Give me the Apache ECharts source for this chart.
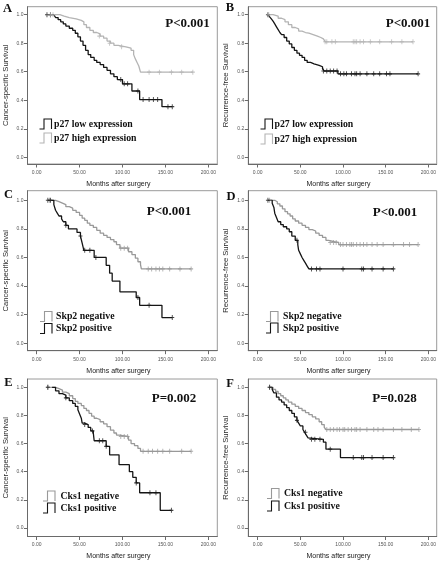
<!DOCTYPE html>
<html>
<head>
<meta charset="utf-8">
<script src="https://cdn.jsdelivr.net/npm/echarts@6/dist/echarts.min.js"></script>
<style>html,body{margin:0;padding:0;background:#fff}#c{width:441px;height:561px}</style>
</head>
<body>
<div id="c"></div>
<script>
// ---------- DATA ----------
const xTicks = [0, 50, 100, 150, 200];
const yTicks = [0, 0.2, 0.4, 0.6, 0.8, 1.0];
const panelLetters = ['A', 'B', 'C', 'D', 'E', 'F'];
const pValues = ['P<0.001', 'P<0.001', 'P<0.001', 'P<0.001', 'P=0.002', 'P=0.028'];
const yTitles = ['Cancer-specific Survival', 'Recurrence-free Survival', 'Cancer-specific Survival', 'Recurrence-free Survival', 'Cancer-specific Survival', 'Recurrence-free Survival'];
const xTitle = 'Months after surgery';
const legendA = ['p27 low expression', 'p27 high expression'];
const legendC = ['Skp2 negative', 'Skp2 positive'];
const legendE = ['Cks1 negative', 'Cks1 positive'];

// Panel A: cancer-specific survival by p27
const aLow = [[14,1.0],[20,0.99],[22,0.98],[25,0.965],[28,0.95],[31,0.935],[34,0.92],[38,0.905],[42,0.89],[45,0.87],[48,0.845],[51,0.815],[54,0.785],[57,0.75],[60,0.72],[63,0.70],[67,0.68],[70,0.665],[74,0.65],[78,0.63],[82,0.61],[86,0.585],[90,0.565],[94,0.545],[100,0.515],[111,0.465],[120,0.405],[146,0.355],[158,0.355]];
const aLowCens = [[12,1],[16,1],[98,0.545],[102,0.515],[106,0.515],[118,0.465],[124,0.405],[131,0.405],[136,0.405],[141,0.405],[153,0.355],[158,0.355]];
const aHigh = [[20,1.0],[27,0.99],[32,0.98],[38,0.97],[46,0.96],[52,0.95],[55,0.93],[58,0.91],[62,0.89],[66,0.875],[70,0.865],[74,0.85],[78,0.835],[82,0.815],[86,0.80],[90,0.785],[95,0.775],[104,0.765],[110,0.75],[113,0.72],[115,0.69],[117,0.665],[119,0.64],[121,0.597],[182,0.597]];
const aHighCens = [[16,1],[19,1],[73,0.85],[85,0.80],[99,0.775],[131,0.597],[143,0.597],[157,0.597],[169,0.597],[182,0.597]];

// Panel B: recurrence-free survival by p27
const bLow = [[12,1.0],[14,0.985],[16,0.97],[18,0.955],[20,0.935],[22,0.915],[24,0.895],[26,0.875],[28,0.86],[31,0.84],[34,0.815],[37,0.795],[40,0.77],[43,0.75],[46,0.73],[49,0.715],[52,0.70],[55,0.68],[58,0.665],[62,0.655],[66,0.645],[72,0.635],[76,0.62],[78,0.605],[94,0.585],[188,0.585]];
const bLowCens = [[12,1],[77,0.605],[81,0.605],[85,0.605],[89,0.605],[93,0.605],[97,0.585],[101,0.585],[104,0.585],[110,0.585],[114,0.585],[116,0.585],[120,0.585],[128,0.585],[136,0.585],[143,0.585],[151,0.585],[155,0.585],[188,0.585]];
const bHigh = [[13,1.0],[18,0.99],[24,0.975],[28,0.965],[32,0.95],[36,0.93],[40,0.91],[44,0.9],[48,0.885],[52,0.875],[56,0.87],[60,0.86],[65,0.85],[70,0.84],[74,0.83],[77,0.82],[79,0.81],[182,0.81]];
const bHighCens = [[13,1],[79,0.81],[81,0.81],[87,0.81],[91,0.81],[112,0.81],[114,0.81],[116,0.81],[120,0.81],[124,0.81],[132,0.81],[143,0.81],[157,0.81],[169,0.81],[182,0.81]];

// Panel C: cancer-specific survival by Skp2
const cNeg = [[15,1.0],[22,0.99],[26,0.98],[30,0.97],[34,0.955],[38,0.945],[42,0.93],[46,0.915],[50,0.895],[53,0.875],[56,0.86],[59,0.84],[62,0.825],[66,0.81],[70,0.79],[74,0.77],[78,0.755],[82,0.74],[86,0.725],[90,0.71],[93,0.69],[97,0.665],[107,0.64],[111,0.62],[115,0.595],[118,0.57],[121,0.55],[122,0.52],[180,0.52]];
const cNegCens = [[15,1],[98,0.665],[102,0.665],[106,0.665],[130,0.52],[134,0.52],[139,0.52],[143,0.52],[147,0.52],[155,0.52],[167,0.52],[180,0.52]];
const cPos = [[13,1.0],[20,0.97],[22,0.93],[24,0.91],[26,0.89],[29,0.87],[31,0.85],[34,0.825],[37,0.80],[47,0.775],[51,0.75],[53,0.70],[55,0.65],[67,0.60],[81,0.545],[85,0.49],[88,0.435],[97,0.36],[116,0.32],[120,0.265],[146,0.18],[158,0.18]];
const cPosCens = [[13,1],[16,1],[34,0.825],[51,0.75],[56,0.65],[62,0.65],[69,0.60],[118,0.32],[131,0.265],[158,0.18]];

// Panel D: recurrence-free survival by Skp2
const dNeg = [[14,1.0],[20,0.99],[23,0.975],[26,0.96],[29,0.94],[32,0.92],[35,0.905],[38,0.89],[41,0.87],[44,0.855],[48,0.84],[52,0.825],[56,0.81],[60,0.795],[64,0.785],[68,0.77],[72,0.755],[76,0.74],[80,0.72],[83,0.71],[90,0.705],[95,0.69],[188,0.69]];
const dNegCens = [[14,1],[85,0.705],[89,0.705],[92,0.705],[97,0.69],[100,0.69],[104,0.69],[108,0.69],[110,0.69],[112,0.69],[116,0.69],[120,0.69],[124,0.69],[128,0.69],[134,0.69],[140,0.69],[147,0.69],[159,0.69],[171,0.69],[178,0.69],[188,0.69]];
const dPos = [[12,1.0],[17,0.98],[19,0.95],[20,0.91],[22,0.88],[24,0.85],[27,0.83],[30,0.815],[34,0.80],[37,0.78],[40,0.75],[44,0.72],[47,0.69],[48,0.65],[50,0.625],[52,0.60],[54,0.58],[56,0.56],[58,0.54],[60,0.52],[159,0.52]];
const dPosCens = [[12,1],[46,0.72],[63,0.52],[69,0.52],[73,0.52],[100,0.52],[122,0.52],[124,0.52],[134,0.52],[147,0.52],[159,0.52]];

// Panel E: cancer-specific survival by Cks1
const eNeg = [[13,1.0],[22,0.99],[26,0.98],[30,0.965],[34,0.955],[38,0.94],[42,0.92],[45,0.9],[48,0.885],[52,0.87],[55,0.85],[58,0.835],[61,0.815],[64,0.795],[67,0.78],[70,0.77],[74,0.755],[78,0.74],[82,0.72],[86,0.695],[90,0.675],[93,0.66],[96,0.65],[107,0.625],[110,0.60],[114,0.585],[118,0.565],[121,0.545],[180,0.545]];
const eNegCens = [[13,1],[98,0.65],[102,0.65],[106,0.65],[124,0.545],[130,0.545],[135,0.545],[141,0.545],[147,0.545],[155,0.545],[169,0.545],[180,0.545]];
const ePos = [[18,1.0],[22,0.975],[26,0.955],[30,0.945],[34,0.925],[38,0.905],[42,0.885],[45,0.865],[48,0.84],[50,0.81],[52,0.78],[53,0.745],[56,0.735],[60,0.715],[63,0.69],[66,0.675],[67,0.62],[81,0.58],[85,0.52],[96,0.45],[108,0.40],[112,0.36],[116,0.32],[120,0.25],[144,0.125],[157,0.125]];
const ePosCens = [[13,1],[34,0.925],[56,0.735],[65,0.69],[73,0.62],[77,0.62],[81,0.58],[116,0.32],[132,0.25],[139,0.25],[157,0.125]];

// Panel F: recurrence-free survival by Cks1
const fNeg = [[14,1.0],[18,0.985],[21,0.97],[24,0.955],[27,0.94],[30,0.925],[33,0.91],[36,0.895],[40,0.88],[44,0.865],[48,0.85],[52,0.835],[56,0.82],[60,0.805],[64,0.79],[68,0.775],[72,0.755],[75,0.735],[78,0.715],[80,0.70],[189,0.70]];
const fNegCens = [[14,1],[81,0.70],[85,0.70],[89,0.70],[93,0.70],[96,0.70],[100,0.70],[102,0.70],[106,0.70],[110,0.70],[114,0.70],[116,0.70],[120,0.70],[128,0.70],[136,0.70],[141,0.70],[147,0.70],[159,0.70],[169,0.70],[180,0.70],[189,0.70]];
const fPos = [[14,1.0],[17,0.985],[19,0.96],[22,0.93],[25,0.91],[28,0.895],[31,0.875],[34,0.855],[37,0.835],[40,0.815],[43,0.79],[46,0.765],[48,0.745],[50,0.725],[53,0.70],[55,0.68],[57,0.66],[59,0.64],[61,0.63],[77,0.61],[80,0.56],[97,0.50],[159,0.50]];
const fPosCens = [[14,1],[46,0.765],[56,0.68],[63,0.63],[67,0.63],[73,0.63],[85,0.56],[112,0.50],[122,0.50],[124,0.50],[134,0.50],[147,0.50],[159,0.50]];

// ---------- LAYOUT / STYLE ----------
const SANS = 'Liberation Sans, Arial, sans-serif';
const SERIF = 'Liberation Serif, Times New Roman, serif';
const BLACK = '#151515';
const GRAY_LIGHT = '#b4b4b4';
const GRAY = '#999999';

const cols = [
  {left: 27.5, width: 189.8, xmin: -10.7, xmax: 210.5},
  {left: 248.3, width: 188.4, xmin: -11.0, xmax: 209.8}
];
const rows = [
  {top: 6.7, height: 157.3, ymin: -0.047, ymax: 1.056},
  {top: 190.7, height: 160.0, ymin: -0.052, ymax: 1.067},
  {top: 379.0, height: 158.7, ymin: -0.061, ymax: 1.059}
];

const panelCurves = [
  [{d: aLow, c: aLowCens, color: BLACK, name: legendA[0]}, {d: aHigh, c: aHighCens, color: GRAY_LIGHT, name: legendA[1]}],
  [{d: bLow, c: bLowCens, color: BLACK, name: legendA[0]}, {d: bHigh, c: bHighCens, color: GRAY_LIGHT, name: legendA[1]}],
  [{d: cNeg, c: cNegCens, color: GRAY, name: legendC[0]}, {d: cPos, c: cPosCens, color: BLACK, name: legendC[1]}],
  [{d: dNeg, c: dNegCens, color: GRAY, name: legendC[0]}, {d: dPos, c: dPosCens, color: BLACK, name: legendC[1]}],
  [{d: eNeg, c: eNegCens, color: GRAY, name: legendE[0]}, {d: ePos, c: ePosCens, color: BLACK, name: legendE[1]}],
  [{d: fNeg, c: fNegCens, color: GRAY, name: legendE[0]}, {d: fPos, c: fPosCens, color: BLACK, name: legendE[1]}]
];

// letter centre, p-value centre, legend (icon x, text x, line y centres)
const deco = [
  {letter: [7.5, 8.5], p: [187.5, 24], leg: {ix: 39.5, tx: 54, ys: [124, 138]}},
  {letter: [230, 7.5], p: [408, 24], leg: {ix: 260.5, tx: 274.5, ys: [124, 139]}},
  {letter: [8.5, 194.5], p: [169, 212], leg: {ix: 40, tx: 56, ys: [316.5, 328.5]}},
  {letter: [231, 197], p: [395, 213], leg: {ix: 266, tx: 283, ys: [316.5, 328]}},
  {letter: [8.5, 383], p: [174, 399], leg: {ix: 43, tx: 60.5, ys: [496, 508]}},
  {letter: [230, 383.5], p: [394.5, 399], leg: {ix: 267, tx: 284, ys: [493.5, 506]}}
];

const grids = [], xAxes = [], yAxes = [], series = [], graphics = [];
for (let i = 0; i < 6; i++) {
  const col = cols[i % 2], row = rows[Math.floor(i / 2)];
  grids.push({left: col.left, top: row.top, width: col.width, height: row.height,
    show: true, borderColor: '#9a9a9a', borderWidth: 1, backgroundColor: 'transparent'});
  xAxes.push({
    type: 'value', gridIndex: i, min: col.xmin, max: col.xmax,
    axisLine: {show: true, onZero: false, lineStyle: {color: '#6a6a6a', width: 1}},
    axisTick: {show: true, customValues: xTicks, length: 3.5, lineStyle: {color: '#6a6a6a'}},
    axisLabel: {show: true, customValues: xTicks, formatter: v => Number(v).toFixed(2),
      fontSize: 5, color: '#555', margin: 6, fontFamily: SANS},
    splitLine: {show: false},
    name: xTitle, nameLocation: 'middle', nameGap: 16.5,
    nameTextStyle: {fontSize: 7, color: '#1a1a1a', fontFamily: SANS, padding: [0, 8, 0, 0]}
  });
  yAxes.push({
    type: 'value', gridIndex: i, min: row.ymin, max: row.ymax,
    axisLine: {show: true, onZero: false, lineStyle: {color: '#6a6a6a', width: 1}},
    axisTick: {show: true, customValues: yTicks, length: 3.5, lineStyle: {color: '#6a6a6a'}},
    axisLabel: {show: true, customValues: yTicks, formatter: v => Number(v).toFixed(1),
      fontSize: 5, color: '#555', margin: 4, fontFamily: SANS},
    splitLine: {show: false},
    name: yTitles[i], nameLocation: 'middle', nameGap: 18,
    nameTextStyle: {fontSize: 7.6, color: '#2a2a2a', fontFamily: SANS}
  });
  panelCurves[i].forEach(cv => {
    series.push({
      type: 'line', name: cv.name, xAxisIndex: i, yAxisIndex: i, data: cv.d, step: 'end',
      symbol: 'none', showSymbol: false, lineStyle: {color: cv.color, width: 1.3}, itemStyle: {color: cv.color},
      animation: false, silent: true, z: 3
    });
    series.push({
      type: 'scatter', name: cv.name + ' (censored)', xAxisIndex: i, yAxisIndex: i, data: cv.c,
      symbol: 'path://M5,0L5,10M0,5L10,5', symbolSize: [4, 5],
      itemStyle: {color: 'none', borderColor: cv.color, borderWidth: 1},
      animation: false, silent: true, z: 4
    });
  });
  const dc = deco[i];
  graphics.push({type: 'text', x: dc.letter[0], y: dc.letter[1], style: {text: panelLetters[i],
    font: 'bold 12.5px ' + SERIF, fill: '#111', align: 'center', verticalAlign: 'middle'}});
  graphics.push({type: 'text', x: dc.p[0], y: dc.p[1], style: {text: pValues[i],
    font: 'bold 13px ' + SERIF, fill: '#111', align: 'center', verticalAlign: 'middle'}});
  panelCurves[i].forEach((cv, k) => {
    const yc = dc.leg.ys[k], ix = dc.leg.ix;
    graphics.push({type: 'polyline', shape: {points: [[ix, yc + 5], [ix + 4.5, yc + 5], [ix + 4.5, yc - 5], [ix + 12, yc - 5], [ix + 12, yc + 5]]},
      style: {stroke: cv.color, fill: null, lineWidth: 1.1}});
    graphics.push({type: 'text', x: dc.leg.tx, y: yc, style: {text: cv.name,
      font: 'bold 9.8px ' + SERIF, fill: '#111', align: 'left', verticalAlign: 'middle'}});
  });
}

const chart = echarts.init(document.getElementById('c'), null, {renderer: 'canvas'});
chart.setOption({
  backgroundColor: '#fff',
  animation: false,
  grid: grids, xAxis: xAxes, yAxis: yAxes, series: series, graphic: graphics
});
</script>
</body>
</html>
